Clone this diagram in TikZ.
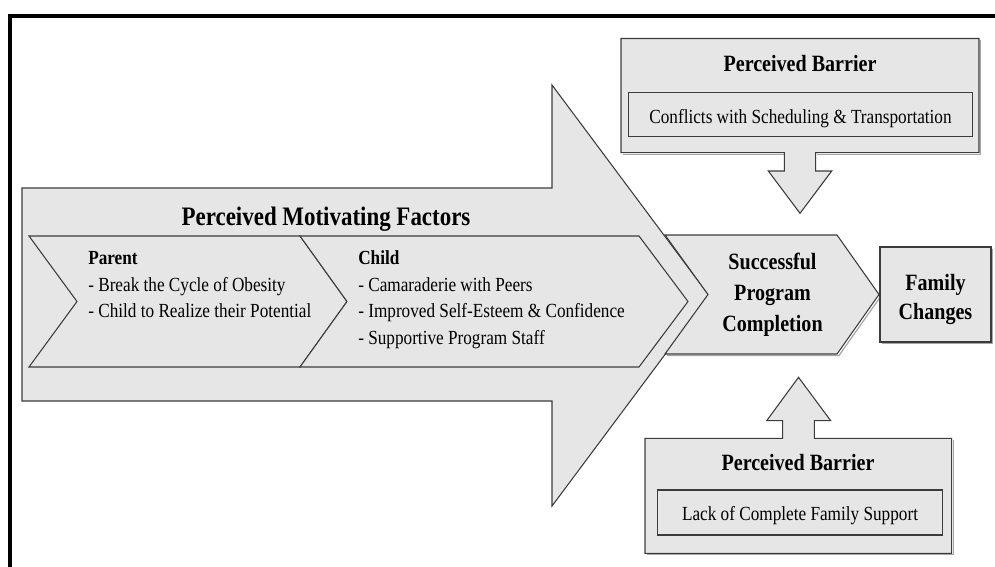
\documentclass[tikz,border=0pt]{standalone}
\usepackage{fontspec}
\setmainfont{Liberation Serif}[FakeStretch=0.86]
\definecolor{fillgray}{RGB}{230,230,230}
\definecolor{linegray}{RGB}{60,60,60}
\begin{document}
\begin{tikzpicture}[x=0.75pt,y=-0.75pt,
  blk/.style={fill=fillgray, draw=linegray, line width=0.8pt, line join=miter},
  shd/.style={draw=black!35, line width=0.9pt},
  txt/.style={inner sep=0pt, anchor=base west, font=\fontsize{15}{18}\selectfont},
  txtb/.style={txt, font=\fontsize{15}{18}\selectfont\bfseries},
  ctr/.style={inner sep=0pt, anchor=base, font=\fontsize{15}{18}\selectfont},
  bighd/.style={inner sep=0pt, anchor=base, font=\fontsize{17.5}{21}\selectfont\bfseries},
  title/.style={inner sep=0pt, anchor=base, font=\fontsize{20}{24}\selectfont\bfseries}]
\useasboundingbox (0,0) rectangle (995,567);
\fill[white] (0,0) rectangle (995,567);
% outer frame
\draw[line width=3.2pt, line join=miter] (9.7,570) -- (9.7,16.2) -- (998,16.2);
% big arrow
\draw[blk] (22,188) -- (552,188) -- (552,85) -- (709,295.5) -- (552,506) -- (552,401) -- (22,401) -- cycle;
% band chevrons
\draw[blk] (29,236) -- (300,236) -- (347,301.5) -- (300,367) -- (29,367) -- (77,301.5) -- cycle;
\draw[blk] (300,236) -- (639,236) -- (688,301.5) -- (639,367) -- (300,367) -- (347,301.5) -- cycle;
% successful chevron
\draw[shd] (667,355.5) -- (839,355.5) -- (881,296);
\draw[blk] (665,235) -- (837,235) -- (879,294.5) -- (837,354) -- (665,354) -- (708,294.5) -- cycle;
% family box
\draw[shd] (881.5,343.5) -- (992.5,343.5) -- (992.5,248.5);
\draw[blk] (880,247) rectangle (991,342);
% top barrier
\draw[shd] (622.5,154.2) -- (785.8,154.2);
\draw[shd] (817.2,154.2) -- (980.5,154.2) -- (980.5,40);
\draw[blk] (621,38.5) -- (979,38.5) -- (979,152.7) -- (815.7,152.7) -- (815.7,171) -- (831.7,171) -- (800,213.3) -- (768.3,171) -- (784.3,171) -- (784.3,152.7) -- (621,152.7) -- cycle;
\draw[blk] (628.3,92.7) rectangle (972.7,136.7);
% bottom barrier
\draw[shd] (646.5,554.8) -- (953.2,554.8) -- (953.2,439.8);
\draw[blk] (645,438.3) -- (782.7,438.3) -- (782.7,420.7) -- (766.7,420.7) -- (798.5,377.3) -- (830.7,420.7) -- (814.3,420.7) -- (814.3,438.3) -- (951.7,438.3) -- (951.7,553.3) -- (645,553.3) -- cycle;
\draw[blk] (657.3,490) rectangle (942.7,535);
% texts
\node[title] (ttl) at (326,225.7) {Perceived Motivating Factors};
\node[txtb] (par) at (88,264.5) {Parent};
\node[txt] (par1) at (88,291.2) {- Break the Cycle of Obesity};
\node[txt] (par2) at (88,317.9) {- Child to Realize their Potential};
\node[txtb] (chi) at (358,264.5) {Child};
\node[txt] (chi1) at (358,291.2) {- Camaraderie with Peers};
\node[txt] (chi2) at (358,317.9) {- Improved Self-Esteem \& Confidence};
\node[txt] (chi3) at (358,344.6) {- Supportive Program Staff};
\node[bighd] (sp1) at (772.5,269.5) {Successful};
\node[bighd] (sp2) at (772.5,300.5) {Program};
\node[bighd] (sp3) at (772.5,331.5) {Completion};
\node[bighd] (fc1) at (935.5,290) {Family};
\node[bighd] (fc2) at (935.5,319.5) {Changes};
\node[bighd] (pb1) at (800,71.7) {Perceived Barrier};
\node[ctr] (pb1t) at (800.5,123.3) {Conflicts with Scheduling \& Transportation};
\node[bighd] (pb2) at (798,470.7) {Perceived Barrier};
\node[ctr] (pb2t) at (800,520) {Lack of Complete Family Support};
\end{tikzpicture}
\end{document}
